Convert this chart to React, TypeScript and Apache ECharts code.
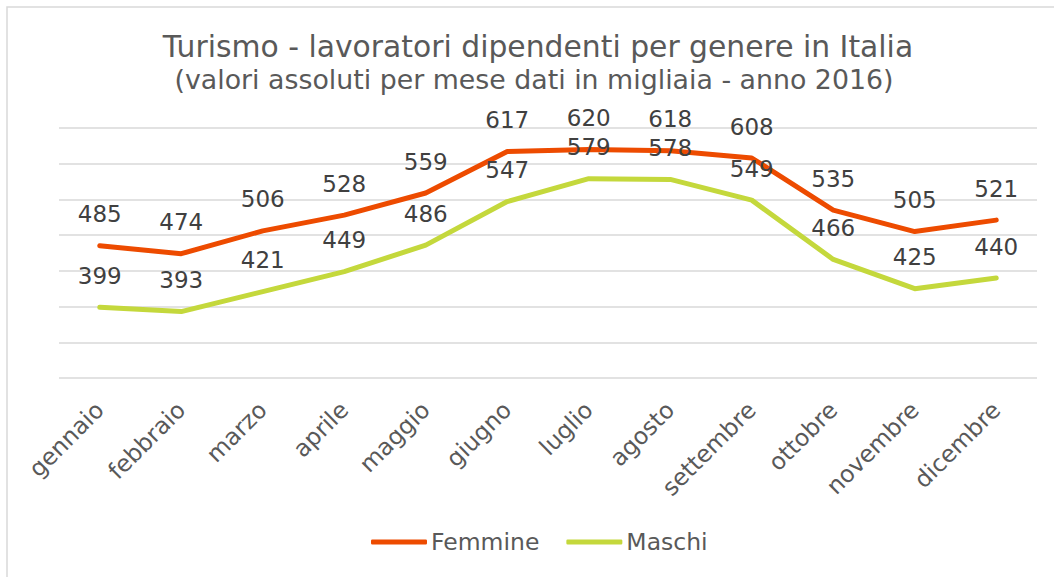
import React, { useEffect, useRef } from "react";
import * as echarts from "echarts";

const months = [
  "gennaio", "febbraio", "marzo", "aprile", "maggio", "giugno",
  "luglio", "agosto", "settembre", "ottobre", "novembre", "dicembre",
];
const femmine = [485, 474, 506, 528, 559, 617, 620, 618, 608, 535, 505, 521];
const maschi = [399, 393, 421, 449, 486, 547, 579, 578, 549, 466, 425, 440];
const titleText = "Turismo - lavoratori dipendenti per genere in Italia";
const subtitleText = "(valori assoluti per mese dati in migliaia - anno 2016)";

const FONT = "'DejaVu Sans', Verdana, sans-serif";
const ORANGE = "#ED4B00";
const LIME = "#C4D83C";

export default function App() {
  const ref = useRef<HTMLDivElement>(null);
  useEffect(() => {
    if (!ref.current) return;
    const chart = echarts.init(ref.current, null, { renderer: "svg" });
    const mkSeries = (name: string, data: number[], color: string) => ({
      name,
      type: "line",
      data,
      symbol: "circle",
      symbolSize: 2,
      showSymbol: true,
      itemStyle: { color },
      lineStyle: { color, width: 5, cap: "round", join: "round" },
      label: {
        show: true,
        position: "top",
        distance: 19,
        fontFamily: FONT,
        fontSize: 23,
        color: "#404040",
      },
      emphasis: { disabled: true },
    });
    chart.setOption({
      animation: false,
      backgroundColor: "#ffffff",
      textStyle: { fontFamily: FONT },
      graphic: [
        {
          type: "rect",
          shape: { x: 7, y: 7, width: 1100, height: 620 },
          style: { fill: "none", stroke: "#d9d9d9", lineWidth: 1.5 },
          silent: true,
        },
        {
          type: "text",
          x: 538,
          y: 46,
          style: {
            text: titleText,
            fontFamily: FONT,
            fontSize: 29.8,
            fill: "#595959",
            align: "center",
            verticalAlign: "middle",
            textAlign: "center",
            textVerticalAlign: "middle",
          },
        },
        {
          type: "text",
          x: 534,
          y: 79,
          style: {
            text: subtitleText,
            fontFamily: FONT,
            fontSize: 26.8,
            fill: "#595959",
            align: "center",
            verticalAlign: "middle",
            textAlign: "center",
            textVerticalAlign: "middle",
          },
        },
      ],
      legend: {
        data: ["Femmine", "Maschi"],
        left: 371,
        top: 530,
        padding: 0,
        icon: "roundRect",
        itemWidth: 56,
        itemHeight: 5,
        itemGap: 27,
        textStyle: { fontFamily: FONT, fontSize: 23.5, color: "#595959", padding: [0, 0, 0, -1] },
      },
      grid: { left: 59, right: 17, top: 128, bottom: 199, containLabel: false },
      xAxis: {
        type: "category",
        data: months,
        boundaryGap: true,
        axisLine: { show: false },
        axisTick: { show: false },
        axisLabel: {
          rotate: 45,
          margin: 28,
          fontFamily: FONT,
          fontSize: 23.5,
          color: "#595959",
          interval: 0,
        },
      },
      yAxis: {
        type: "value",
        min: 300,
        max: 650,
        interval: 50,
        axisLabel: { show: false },
        axisLine: { show: false },
        axisTick: { show: false },
        splitLine: { show: true, lineStyle: { color: "#d9d9d9", width: 1.5 } },
      },
      series: [mkSeries("Femmine", femmine, ORANGE), mkSeries("Maschi", maschi, LIME)],
    });
    return () => chart.dispose();
  }, []);
  return (
    <div
      ref={ref}
      style={{ position: "fixed", left: 0, top: 0, width: 1054, height: 577 }}
    />
  );
}
